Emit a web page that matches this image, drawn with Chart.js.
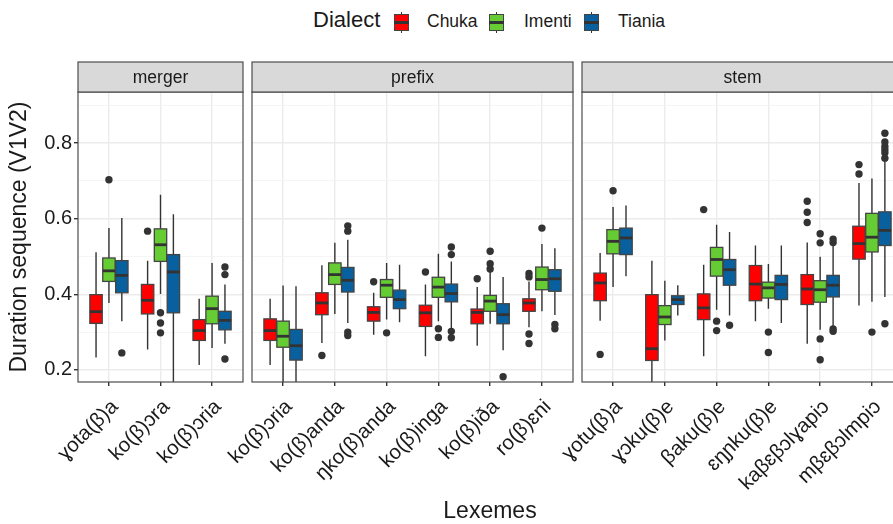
<!DOCTYPE html>
<html>
<head>
<meta charset="utf-8">
<script src="https://cdn.jsdelivr.net/npm/chart.js@4.4.1/dist/chart.umd.min.js"></script>
<style>
  html, body { margin: 0; padding: 0; background: #fff; }
  body { width: 893px; height: 524px; overflow: hidden; position: relative;
         font-family: "Liberation Sans", Arial, sans-serif; color: #1a1a1a; }
  canvas { position: absolute; top: 60px; }
  .lg { position: absolute; white-space: nowrap; }
  .key { position: absolute; top: 12px; width: 15px; height: 21px; }
  .key .wh { position: absolute; left: 6.8px; width: 1.5px; top: 0; bottom: 0; background: #333; }
  .key .bx { position: absolute; left: 0; top: 2px; width: 15px; height: 17px; box-sizing: border-box;
             border: 1.3px solid #444; }
  .key .md { position: absolute; left: 0; width: 15px; top: 9.3px; height: 2.4px; background: #333; }
  #xtitle { position: absolute; left: 390px; width: 200px; text-align: center; top: 499px;
            font-size: 23px; line-height: 23px; }
</style>
</head>
<body>
<div class="lg" style="left:313px; top:9px; font-size:22px; line-height:22px;">Dialect</div>
<div class="key" style="left:394px"><div class="wh"></div><div class="bx" style="background:#ff0000"></div><div class="md"></div></div>
<div class="lg" style="left:427px; top:12.5px; font-size:17.5px; line-height:17.5px;">Chuka</div>
<div class="key" style="left:489px"><div class="wh"></div><div class="bx" style="background:#66cc33"></div><div class="md"></div></div>
<div class="lg" style="left:524px; top:12.5px; font-size:17.5px; line-height:17.5px;">Imenti</div>
<div class="key" style="left:584px"><div class="wh"></div><div class="bx" style="background:#08619e"></div><div class="md"></div></div>
<div class="lg" style="left:618px; top:12.5px; font-size:17.5px; line-height:17.5px;">Tiania</div>

<canvas id="cMerger" width="248" height="464" style="left:0px"></canvas>
<canvas id="cPrefix" width="366" height="464" style="left:212px"></canvas>
<canvas id="cStem" width="366" height="464" style="left:542px"></canvas>
<div id="xtitle">Lexemes</div>

<script>
// categories per facet
const mergerCats = ['ɣota(β)a', 'ko(β)ɔra', 'ko(β)ɔria'];
const prefixCats = ['ko(β)ɔria', 'ko(β)anda', 'ŋko(β)anda', 'ko(β)inga', 'ko(β)iða', 'ro(β)ɛni'];
const stemCats = ['ɣotu(β)a', 'ɣɔku(β)e', 'βaku(β)e', 'ɛŋɲku(β)e', 'kaβɛβɔlɣapiɔ', 'mβɛβɔlmpiɔ'];

const dialects = ['Chuka', 'Imenti', 'Tiania'];
const yTicks = [0.2, 0.3, 0.4, 0.5, 0.6, 0.7, 0.8, 0.9];
const yMajor = [0.2, 0.4, 0.6, 0.8];

// box stats: [lower whisker, q1, median, q3, upper whisker]
const mergerChuka = [[0.233, 0.323, 0.354, 0.399, 0.511], [0.254, 0.348, 0.384, 0.426, 0.489], [0.213, 0.278, 0.304, 0.333, 0.388]];
const mergerImenti = [[0.377, 0.434, 0.462, 0.496, 0.575], [0.401, 0.487, 0.531, 0.573, 0.663], [0.258, 0.322, 0.362, 0.395, 0.483]];
const mergerTiania = [[0.329, 0.404, 0.450, 0.489, 0.602], [0.150, 0.351, 0.459, 0.505, 0.612], [0.269, 0.306, 0.331, 0.355, 0.426]];
const mergerChukaOut = [[], [0.567], []];
const mergerImentiOut = [[0.703], [0.351, 0.324, 0.298], []];
const mergerTianiaOut = [[0.245], [], [0.472, 0.452, 0.229]];

const prefixChuka = [[0.213, 0.278, 0.304, 0.335, 0.388], [0.271, 0.346, 0.377, 0.404, 0.477], [0.293, 0.329, 0.352, 0.367, 0.404],
  [0.236, 0.315, 0.351, 0.371, 0.426], [0.264, 0.322, 0.352, 0.361, 0.419], [0.313, 0.355, 0.377, 0.388, 0.434]];
const prefixImenti = [[0.150, 0.260, 0.289, 0.329, 0.423], [0.348, 0.426, 0.452, 0.483, 0.536], [0.333, 0.392, 0.424, 0.439, 0.483],
  [0.329, 0.392, 0.419, 0.445, 0.507], [0.322, 0.355, 0.382, 0.397, 0.461], [0.355, 0.412, 0.439, 0.472, 0.533]];
const prefixTiania = [[0.150, 0.226, 0.264, 0.307, 0.421], [0.324, 0.406, 0.437, 0.471, 0.544], [0.326, 0.362, 0.386, 0.411, 0.478],
  [0.311, 0.380, 0.402, 0.427, 0.487], [0.252, 0.322, 0.346, 0.375, 0.446], [0.345, 0.408, 0.441, 0.465, 0.522]];
const prefixChukaOut = [[], [0.238], [0.433], [0.459], [0.441], [0.455, 0.446, 0.295, 0.270]];
const prefixImentiOut = [[], [], [0.298], [0.309, 0.286], [0.514, 0.481, 0.467], [0.575]];
const prefixTianiaOut = [[], [0.581, 0.567, 0.300, 0.291], [], [0.525, 0.505, 0.302, 0.285], [0.182], [0.320, 0.309]];

const stemChuka = [[0.330, 0.383, 0.430, 0.456, 0.509], [0.150, 0.225, 0.256, 0.399, 0.489], [0.236, 0.333, 0.364, 0.401, 0.478],
  [0.329, 0.383, 0.427, 0.476, 0.529], [0.269, 0.373, 0.414, 0.452, 0.537], [0.370, 0.493, 0.534, 0.580, 0.694]];
const stemImenti = [[0.419, 0.507, 0.540, 0.571, 0.631], [0.278, 0.320, 0.340, 0.370, 0.436], [0.359, 0.448, 0.492, 0.524, 0.584],
  [0.362, 0.390, 0.417, 0.432, 0.480], [0.306, 0.379, 0.412, 0.436, 0.499], [0.380, 0.512, 0.551, 0.614, 0.706]];
const stemTiania = [[0.448, 0.505, 0.549, 0.575, 0.635], [0.344, 0.373, 0.386, 0.396, 0.424], [0.344, 0.424, 0.465, 0.492, 0.565],
  [0.324, 0.386, 0.426, 0.450, 0.529], [0.315, 0.393, 0.424, 0.450, 0.543], [0.393, 0.529, 0.569, 0.618, 0.753]];
const stemChukaOut = [[0.241], [], [0.624], [], [0.646, 0.617, 0.590], [0.743, 0.718]];
const stemImentiOut = [[0.674], [], [0.329, 0.304], [0.300, 0.246], [0.560, 0.536, 0.282, 0.227], [0.300]];
const stemTianiaOut = [[], [], [0.318], [], [0.546, 0.537, 0.308, 0.302], [0.826, 0.803, 0.791, 0.782, 0.774, 0.760, 0.322]];

const colors = ['#ff0000', '#66cc33', '#08619e'];
const dodge = [-0.25, 0, 0.25];
const boxW = 0.24;
const FONT = '"Liberation Sans", Arial, sans-serif';
Chart.defaults.font.family = FONT;
Chart.defaults.color = '#1a1a1a';

const isMajor = v => yMajor.some(m => Math.abs(m - v) < 1e-6);

// draws boxes, whiskers, panel border and the facet strip
const facetPlugin = {
  id: 'facet',
  beforeDatasetsDraw(chart, args, opts) {
    const { ctx, chartArea: a, scales: { x, y } } = chart;
    ctx.save();
    ctx.beginPath();
    ctx.rect(a.left, a.top, a.right - a.left, a.bottom - a.top);
    ctx.clip();
    opts.stats.forEach((series, s) => {
      series.forEach((st, i) => {
        const cx = x.getPixelForValue(i + dodge[s]);
        const half = (x.getPixelForValue(boxW) - x.getPixelForValue(0)) / 2;
        const [lo, q1, md, q3, hi] = st.map(v => y.getPixelForValue(v));
        ctx.strokeStyle = '#333';
        ctx.lineWidth = 1.4;
        ctx.beginPath();
        ctx.moveTo(cx, hi); ctx.lineTo(cx, q3);
        ctx.moveTo(cx, q1); ctx.lineTo(cx, lo);
        ctx.stroke();
        ctx.fillStyle = colors[s];
        ctx.fillRect(cx - half, q3, 2 * half, q1 - q3);
        ctx.strokeStyle = '#444';
        ctx.lineWidth = 1.3;
        ctx.strokeRect(cx - half, q3, 2 * half, q1 - q3);
        ctx.strokeStyle = '#333';
        ctx.lineWidth = 2.8;
        ctx.beginPath();
        ctx.moveTo(cx - half, md); ctx.lineTo(cx + half, md);
        ctx.stroke();
      });
    });
    ctx.restore();
  },
  afterDraw(chart, args, opts) {
    const { ctx, chartArea: a } = chart;
    ctx.save();
    ctx.strokeStyle = '#4d4d4d';
    ctx.lineWidth = 1.2;
    ctx.strokeRect(a.left, a.top, a.right - a.left, a.bottom - a.top);
    ctx.fillStyle = '#d9d9d9';
    ctx.fillRect(a.left, a.top - 30, a.right - a.left, 30);
    ctx.strokeRect(a.left, a.top - 30, a.right - a.left, 30);
    ctx.fillStyle = '#1a1a1a';
    ctx.font = '17.5px ' + FONT;
    ctx.textAlign = 'center';
    ctx.textBaseline = 'middle';
    ctx.fillText(opts.title, (a.left + a.right) / 2, a.top - 14);
    ctx.restore();
  }
};

function makeFacet(id, title, cats, stats, outs, showY) {
  const datasets = outs.map((o, s) => ({
    label: dialects[s],
    data: o.flatMap((vals, i) => vals.map(v => ({ x: i + dodge[s], y: v }))),
    pointRadius: 3.7,
    pointHoverRadius: 3.7,
    backgroundColor: '#333',
    borderWidth: 0
  }));

  new Chart(document.getElementById(id), {
    type: 'scatter',
    data: { datasets },
    options: {
      responsive: false,
      animation: false,
      layout: { padding: { top: 32, right: 5, left: 0, bottom: 0 } },
      plugins: {
        legend: { display: false },
        tooltip: { enabled: false },
        facet: { title, stats }
      },
      scales: {
        x: {
          type: 'linear',
          bounds: 'data',
          min: -0.6,
          max: cats.length - 0.4,
          afterBuildTicks: ax => { ax.ticks = cats.map((c, i) => ({ value: i })); },
          afterFit: ax => { ax.height = 142; ax.paddingLeft = 0; ax.paddingRight = 0; },
          ticks: {
            callback: v => cats[v],
            autoSkip: false,
            minRotation: 45,
            maxRotation: 45,
            padding: 9,
            labelOffset: 6,
            color: '#1a1a1a',
            font: { size: 20.5 }
          },
          grid: { color: '#ebebeb', lineWidth: 1.4, tickColor: '#333', tickLength: 4 },
          border: { display: false }
        },
        y: {
          type: 'linear',
          bounds: 'data',
          min: 0.168,
          max: 0.935,
          afterBuildTicks: ax => { ax.ticks = yTicks.map(v => ({ value: v })); },
          afterFit: ax => { ax.width = showY ? 78 : 40; ax.paddingTop = 0; ax.paddingBottom = 0; },
          ticks: {
            display: showY,
            callback: v => isMajor(v) ? v.toFixed(1) : '',
            padding: 2,
            color: '#1a1a1a',
            font: { size: 20 }
          },
          title: {
            display: showY,
            text: 'Duration sequence (V1V2)',
            color: '#1a1a1a',
            font: { size: 23 },
            padding: { top: 6, bottom: 0 }
          },
          grid: {
            color: c => isMajor(c.tick.value) ? '#ebebeb' : '#f3f3f3',
            lineWidth: c => isMajor(c.tick.value) ? 1.4 : 0.8,
            drawTicks: showY,
            tickLength: 4,
            tickColor: c => isMajor(c.tick.value) ? '#333' : 'rgba(0,0,0,0)'
          },
          border: { display: false }
        }
      }
    },
    plugins: [facetPlugin]
  });
}

makeFacet('cMerger', 'merger', mergerCats,
  [mergerChuka, mergerImenti, mergerTiania], [mergerChukaOut, mergerImentiOut, mergerTianiaOut], true);
makeFacet('cPrefix', 'prefix', prefixCats,
  [prefixChuka, prefixImenti, prefixTiania], [prefixChukaOut, prefixImentiOut, prefixTianiaOut], false);
makeFacet('cStem', 'stem', stemCats,
  [stemChuka, stemImenti, stemTiania], [stemChukaOut, stemImentiOut, stemTianiaOut], false);
</script>
</body>
</html>
